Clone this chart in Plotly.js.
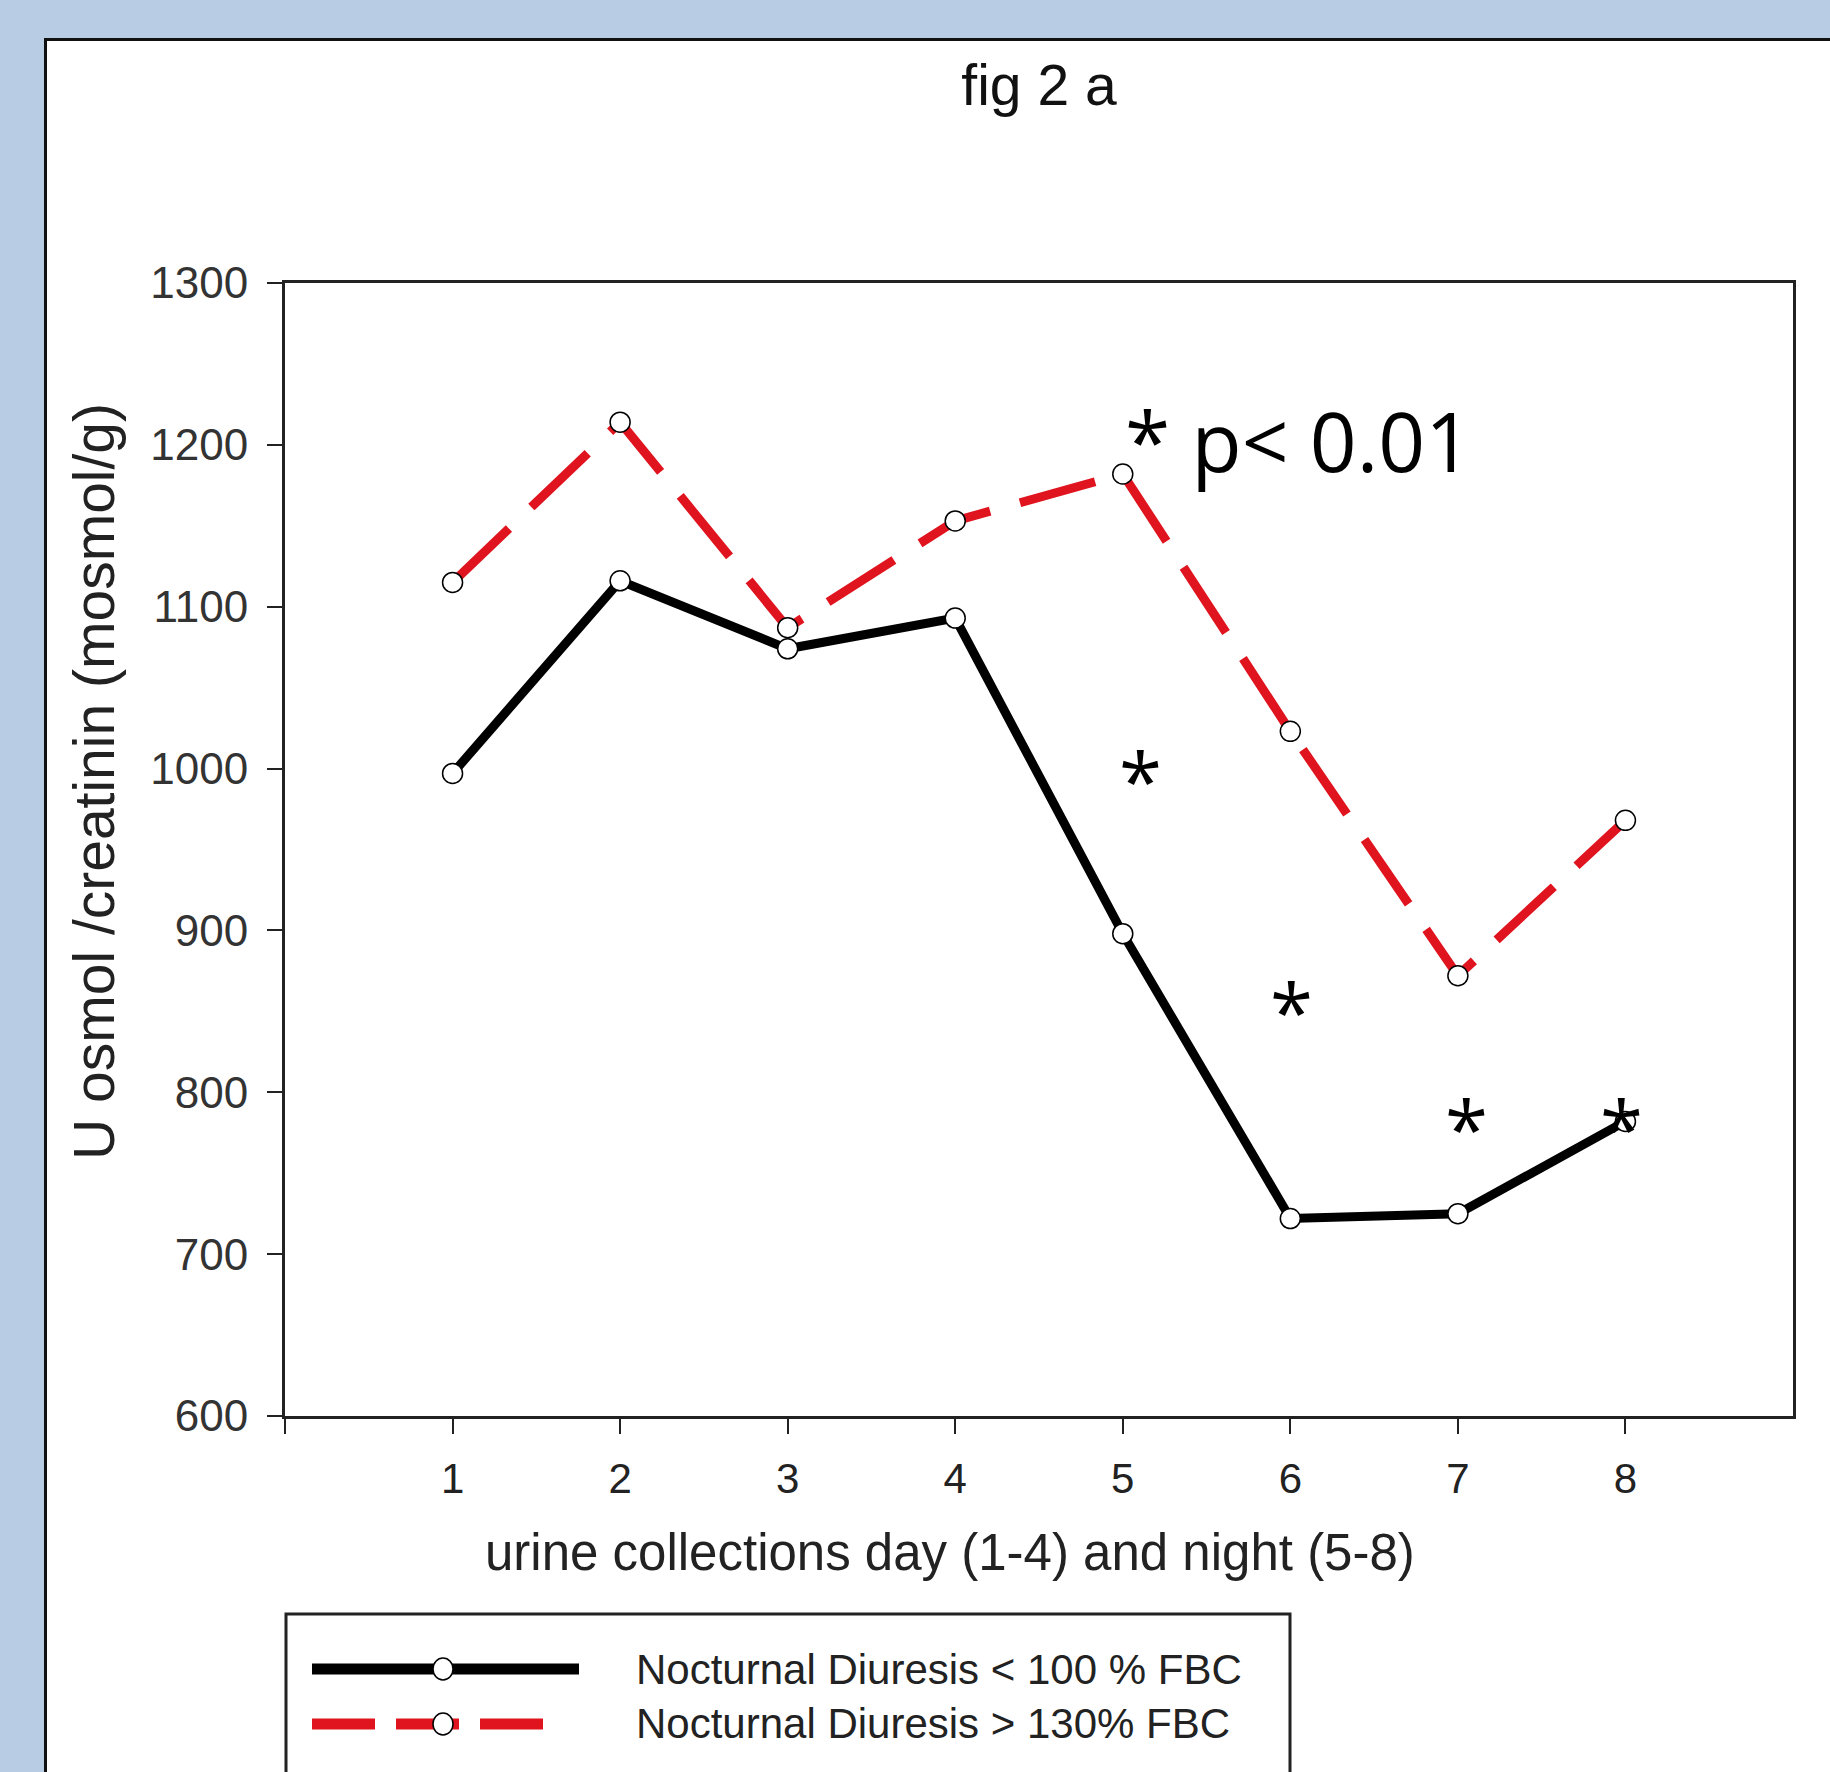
<!DOCTYPE html>
<html><head><meta charset="utf-8">
<script src="https://cdn.plot.ly/plotly-3.0.1.min.js"></script>
<style>
html,body{margin:0;padding:0;background:#b8cce4;width:1830px;height:1772px;overflow:hidden;}
#panel{position:absolute;left:44px;top:38px;width:1786px;height:1734px;background:#fff;border-top:3px solid #111;border-left:3px solid #111;box-sizing:border-box;}
#plot{position:absolute;left:0;top:0;width:1783px;height:1731px;}
</style></head>
<body><div id="panel"><div id="plot"></div></div>
<script>
// ---- data ----
const collections = [1, 2, 3, 4, 5, 6, 7, 8];
const seriesNames = ['Nocturnal Diuresis < 100 % FBC', 'Nocturnal Diuresis > 130% FBC'];
const below100 = [997, 1116, 1074, 1093, 898, 722, 725, 782];
const above130 = [1115, 1214, 1087, 1153, 1182, 1023, 872, 968];
const xTickVals = [0, 1, 2, 3, 4, 5, 6, 7, 8];
const xTickText = ['', '1', '2', '3', '4', '5', '6', '7', '8'];
const yTickVals = [600, 700, 800, 900, 1000, 1100, 1200, 1300];
const yTickText = ['600', '700', '800', '900', '1000', '1100', '1200', '1300'];
const xTitle = 'urine collections day (1-4) and night (5-8)';
const yTitle = 'U osmol /creatinin (mosmol/g)';
const chartTitle = 'fig 2 a';
// significance markers
const starX = [5.105, 6.006, 7.05, 7.975];
const starY = [998, 855, 783, 783];
const sigText = '* p< 0.01';
const sigX = 5.0;
const sigY = 1203;

const FONT = 'Liberation Sans, Arial, sans-serif';
const RED = '#e0141e';

const traces = [
  {x: collections, y: below100, name: seriesNames[0], mode: 'lines+markers',
   line: {color: '#000', width: 9},
   marker: {symbol: 'circle', size: 20, color: '#fff', line: {color: '#000', width: 1.5}},
   showlegend: false, hoverinfo: 'x+y'},
  {x: collections, y: above130, name: seriesNames[1], mode: 'lines+markers',
   line: {color: RED, width: 9, dash: '78px,31px'},
   marker: {symbol: 'circle', size: 20, color: '#fff', line: {color: '#000', width: 1.5}},
   showlegend: false, hoverinfo: 'x+y'}
];

// plot area geometry (pixels inside the plot div) for paper-based placement
const W = 1783, H = 1731, ML = 238, MR = 37, MT = 242, MB = 356;
const PW = W - ML - MR, PH = H - MT - MB;
const px = v => (v - ML) / PW;
const py = v => (H - MB - v) / PH;

const annotations = starX.map((x, i) => ({
  x: x, y: starY[i], xref: 'x', yref: 'y', text: '*', showarrow: false,
  xanchor: 'center', yanchor: 'middle', yshift: -8,
  font: {family: 'Open Sans, Noto Sans, sans-serif', size: 78, color: '#000'}
}));
annotations.push({
  x: sigX, y: sigY, xref: 'x', yref: 'y', text: sigText, showarrow: false,
  xanchor: 'left', yanchor: 'middle',
  font: {family: 'Open Sans, Noto Sans, sans-serif', size: 82, color: '#000'}
});
// axis titles
annotations.push({
  x: px(903), y: py(1511), xref: 'paper', yref: 'paper', text: xTitle, showarrow: false,
  xanchor: 'center', yanchor: 'middle',
  font: {family: FONT, size: 51, color: '#222'}
});
annotations.push({
  x: px(47), y: py(741), xref: 'paper', yref: 'paper', text: yTitle, showarrow: false,
  textangle: -90, xanchor: 'center', yanchor: 'middle',
  font: {family: FONT, size: 57, color: '#222'}
});
// legend texts
const legRowY = [1628, 1683];
seriesNames.forEach((nm, i) => {
  annotations.push({
    x: px(587), y: py(legRowY[i]), xref: 'paper', yref: 'paper', text: nm, showarrow: false,
    xanchor: 'left', yanchor: 'middle',
    font: {family: FONT, size: 42, color: '#222'}
  });
});

const shapes = [
  // legend box
  {type: 'rect', xref: 'paper', yref: 'paper', x0: px(239), x1: px(1243), y0: py(1760), y1: py(1573),
   line: {color: '#222', width: 3}, fillcolor: 'rgba(0,0,0,0)', layer: 'above'},
  // legend sample lines
  {type: 'line', xref: 'paper', yref: 'paper', x0: px(265), x1: px(532), y0: py(legRowY[0]), y1: py(legRowY[0]),
   line: {color: '#000', width: 11}, layer: 'above'},
  {type: 'line', xref: 'paper', yref: 'paper', x0: px(265), x1: px(500), y0: py(legRowY[1]), y1: py(legRowY[1]),
   line: {color: RED, width: 11, dash: '63px,21px'}, layer: 'above'}
];
legRowY.forEach(yy => {
  shapes.push({type: 'circle', xref: 'paper', yref: 'paper', xsizemode: 'pixel', ysizemode: 'pixel',
    xanchor: px(396), yanchor: py(yy), x0: -10, x1: 10, y0: -11, y1: 11,
    line: {color: '#000', width: 1.5}, fillcolor: '#fff', layer: 'above'});
});

const layout = {
  width: W, height: H,
  margin: {l: ML, r: MR, t: MT, b: MB, pad: 0},
  paper_bgcolor: '#fff', plot_bgcolor: '#fff',
  font: {family: FONT, color: '#222'},
  title: {text: chartTitle, font: {family: FONT, size: 57, color: '#111'},
          x: 0.5, xref: 'paper', xanchor: 'center', y: 1 - 44 / H, yref: 'container', yanchor: 'middle'},
  xaxis: {range: [0, 9], tickmode: 'array', tickvals: xTickVals, ticktext: xTickText,
          ticks: 'outside', ticklen: 15, tickwidth: 2, tickcolor: '#222',
          showline: true, linewidth: 3, linecolor: '#222', mirror: true,
          showgrid: false, zeroline: false, ticklabelstandoff: 9,
          tickfont: {family: FONT, size: 42, color: '#222'}},
  yaxis: {range: [600, 1300], tickmode: 'array', tickvals: yTickVals, ticktext: yTickText,
          ticks: 'outside', ticklen: 15, tickwidth: 2, tickcolor: '#222',
          showline: true, linewidth: 3, linecolor: '#222', mirror: true,
          showgrid: false, zeroline: false, ticklabelstandoff: 10,
          tickfont: {family: FONT, size: 44, color: '#333'}},
  annotations: annotations,
  shapes: shapes,
  showlegend: false
};

Plotly.newPlot('plot', traces, layout, {displayModeBar: false, staticPlot: true});
</script>
</body></html>
